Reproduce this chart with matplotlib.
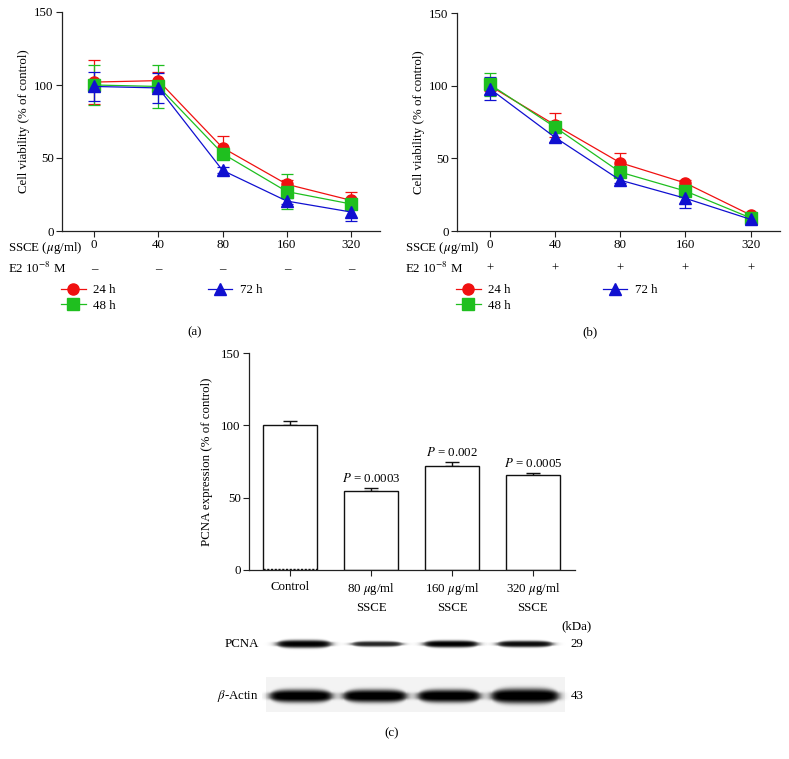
import numpy as np
import matplotlib.pyplot as plt
from matplotlib.lines import Line2D
from matplotlib.transforms import blended_transform_factory

# fonte serifada parecida com a da figura original
plt.rcParams['font.family'] = ['Liberation Serif', 'DejaVu Serif']
plt.rcParams['mathtext.fontset'] = 'stix'
plt.rcParams['font.size'] = 9.3

# ---- dados ----
doses = ['0', '40', '80', '160', '320']
time_labels = ['24 h', '48 h', '72 h']

a_24 = [102, 103, 57, 32, 21]
a_24_err = [15, 6, 8, 3, 6]
a_48 = [100, 99, 53, 27, 18.5]
a_48_err = [14, 15, 3, 12, 3]
a_72 = [99, 98, 41.5, 20.5, 13]
a_72_err = [10, 10, 2, 2, 6]

b_24 = [100, 73, 47, 33, 11]
b_24_err = [4, 8, 7, 2, 1]
b_48 = [101, 71.5, 40.5, 27.5, 9]
b_48_err = [8, 3, 3, 3, 1]
b_72 = [98, 64.5, 35, 22.5, 8]
b_72_err = [8, 3, 2, 7, 1]

e2_a = ['–', '–', '–', '–', '–']
e2_b = ['+', '+', '+', '+', '+']

pcna_groups = ['Control', '80 $\\mu$g/ml\nSSCE', '160 $\\mu$g/ml\nSSCE', '320 $\\mu$g/ml\nSSCE']
pcna_vals = [100, 54.5, 72, 66]
pcna_err = [3, 2.5, 3, 1]
p_values = [None, '0.0003', '0.002', '0.0005']

# intensidade relativa das bandas do western blot
pcna_band = [1.0, 0.85, 1.0, 0.95]
pcna_thick = [8, 5.5, 7, 6.5]
actin_band = [1.0, 1.0, 1.0, 1.0]
actin_thick = [13, 13, 13, 15]

colors = ['#f01010', '#1fbf1f', '#1010d0']
markers = ['o', 's', '^']

W, H = 789, 759
fig = plt.figure(figsize=(W / 100, H / 100), dpi=100)

# eixo de fundo em pixels para textos livres e o blot
bg = fig.add_axes([0, 0, 1, 1], zorder=-1)
bg.set_xlim(0, W)
bg.set_ylim(H, 0)
bg.axis('off')


def px_box(x0, x1, y0, y1):
    return [x0 / W, 1 - y1 / H, (x1 - x0) / W, (y1 - y0) / H]


def style_axes(ax):
    for s in ['top', 'right']:
        ax.spines[s].set_visible(False)
    for s in ['left', 'bottom']:
        ax.spines[s].set_linewidth(0.9)
        ax.spines[s].set_color('#222222')
    ax.tick_params(direction='out', length=4, width=0.8, color='#222222', pad=2)


def line_panel(box, series, errs, e2_row, leg_x, label_x):
    ax = fig.add_axes(box)
    style_axes(ax)
    x = np.arange(len(doses))
    for i in range(3):
        ax.errorbar(x, series[i], yerr=errs[i], color=colors[i], marker=markers[i],
                    markersize=8, lw=0.9, elinewidth=0.9, capsize=4.5, capthick=0.9)
    ax.set_xlim(-0.5, 4.45)
    ax.set_ylim(0, 150)
    ax.set_yticks([0, 50, 100, 150])
    ax.set_xticks(x)
    ax.set_xticklabels(doses)
    ax.set_ylabel('Cell viability (% of control)', labelpad=3)
    tr = blended_transform_factory(ax.transData, ax.transAxes)
    for xi, s in zip(x, e2_row):
        ax.text(xi, -0.175, s, transform=tr, ha='center', va='center')
    bg.text(label_x, 248, 'SSCE ($\\mu$g/ml)', ha='left', va='center')
    bg.text(label_x, 268, 'E2 10$^{-8}$ M', ha='left', va='center')
    handles = [Line2D([], [], color=colors[i], marker=markers[i], markersize=8, lw=0.9)
               for i in range(3)]
    ax.legend(handles, time_labels, loc='upper left', bbox_to_anchor=(leg_x / W, 1 - 284 / H),
              bbox_transform=fig.transFigure, ncol=2, frameon=False,
              borderpad=0, borderaxespad=0, handlelength=1.9, handletextpad=0.6,
              columnspacing=7.1, labelspacing=0.3)
    return ax


ax_a = line_panel(px_box(62, 380, 12, 231), [a_24, a_48, a_72],
                  [a_24_err, a_48_err, a_72_err], e2_a, 61, 8)
ax_b = line_panel(px_box(457, 780, 13, 231), [b_24, b_48, b_72],
                  [b_24_err, b_48_err, b_72_err], e2_b, 456, 405)

bg.text(195, 332, '(a)', ha='center', va='center')
bg.text(590, 332, '(b)', ha='center', va='center')

# ---- painel (c): barras de PCNA ----
ax_c = fig.add_axes(px_box(249, 575, 353, 570))
style_axes(ax_c)
xc = np.arange(len(pcna_vals))
bw = 0.665
ax_c.bar(xc, pcna_vals, width=bw, color='white', edgecolor='#111111', linewidth=1.0, zorder=2)
ax_c.errorbar(xc, pcna_vals, yerr=[np.zeros(len(pcna_err)), pcna_err], fmt='none',
              ecolor='#111111', elinewidth=1.0, capsize=5, capthick=1.0, zorder=1)
ax_c.plot([xc[0] - bw / 2, xc[0] + bw / 2], [0.6, 0.6], color='#111111', lw=1.0,
          ls=(0, (1.5, 1.2)), zorder=3)
for xi, v, e, p in zip(xc, pcna_vals, pcna_err, p_values):
    if p:
        ax_c.text(xi, v + e + 2, '$P$ = ' + p, ha='center', va='bottom')
ax_c.set_xlim(-0.51, 3.52)
ax_c.set_ylim(0, 150)
ax_c.set_yticks([0, 50, 100, 150])
ax_c.set_xticks(xc)
ax_c.set_xticklabels(pcna_groups, linespacing=1.55)
ax_c.tick_params(axis='x', pad=4)
ax_c.set_ylabel('PCNA expression (% of control)', labelpad=6)

# ---- western blot desenhado como imagem ----
x0, x1, y0, y1 = 262, 572, 628, 716
xx, yy = np.meshgrid(np.arange(x0, x1) + 0.5, np.arange(y0, y1) + 0.5)
img = np.ones_like(xx)
# fundo acinzentado na faixa da actina
img -= 0.05 * ((yy > 677) & (yy < 712) & (xx > 266) & (xx < 565))
pcna_lanes = [(304, 54), (377, 50), (451, 54), (525, 55)]
actin_lanes = [(301, 62), (375, 63), (449, 62), (525, 67)]


def add_band(img, xc_, w, yc, th, k):
    horiz = 1 / (1 + np.exp((np.abs(xx - xc_) - w / 2) / 2.5))
    # bandas mais finas nas pontas
    th_x = th * (0.55 + 0.45 * np.clip(1 - ((xx - xc_) / (w / 2)) ** 4, 0, 1))
    vert = np.exp(-np.abs((yy - yc) / (th_x / 2)) ** 3)
    return img - k * horiz * vert


for (lx, lw), k, th in zip(pcna_lanes, pcna_band, pcna_thick):
    img = add_band(img, lx, lw, 644, th, k)
for (lx, lw), k, th in zip(actin_lanes, actin_band, actin_thick):
    img = add_band(img, lx, lw, 696, th, k)
img = np.clip(img, 0, 1)
bg.imshow(img, cmap='gray', vmin=0, vmax=1, extent=[x0, x1, y1, y0],
          interpolation='bilinear', aspect='auto')
bg.set_xlim(0, W)
bg.set_ylim(H, 0)

bg.text(259, 644, 'PCNA', ha='right', va='center')
bg.text(259, 696, '$\\beta$-Actin', ha='right', va='center')
bg.text(577, 626, '(kDa)', ha='center', va='center')
bg.text(577, 644, '29', ha='center', va='center')
bg.text(577, 696, '43', ha='center', va='center')
bg.text(392, 733, '(c)', ha='center', va='center')

fig.savefig('out.png', dpi=100)
